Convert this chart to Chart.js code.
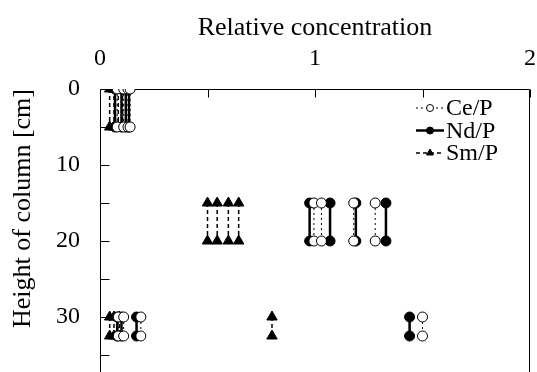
<!DOCTYPE html>
<html>
<head>
<meta charset="utf-8">
<script src="https://cdn.jsdelivr.net/npm/chart.js@4.4.0/dist/chart.umd.min.js"></script>
<style>
  html, body { margin: 0; padding: 0; background: #fff; overflow: hidden; }
  #wrap { width: 537px; height: 400px; }
</style>
</head>
<body>
<div id="wrap"><canvas id="chart"></canvas></div>
<script>
// sampling heights [cm], each pair is one measured interval
const depthTop = [0, 5];
const depthMid = [15, 20];
const depthLow = [30, 32.5];

// relative concentrations
const ceTop = [0.08, 0.11, 0.13, 0.14];
const ceMid = [0.995, 1.03, 1.18, 1.28];
const ceLow = [0.085, 0.11, 0.19, 1.50];

const ndTop = [0.07, 0.10, 0.12, 0.135];
const ndMid = [0.975, 1.07, 1.19, 1.33];
const ndLow = [0.08, 0.10, 0.17, 1.44];

const smTop = [0.045, 0.065, 0.085, 0.105];
const smMid = [0.50, 0.545, 0.597, 0.645];
const smLow = [0.045, 0.065, 0.09, 0.80];

const xLabels = [0, 1, 2];
const yLabels = [0, 10, 20, 30];

const FONT = 'Liberation Serif';

function pairs(groups) {
    const out = [];
    groups.forEach(([values, depth]) => {
        values.forEach(v => {
            out.push({x: v, y: depth[0]}, {x: v, y: depth[1]}, {x: v, y: null});
        });
    });
    return out;
}

const series = [
    {
        label: 'Ce/P',
        data: pairs([[ceTop, depthTop], [ceMid, depthMid], [ceLow, depthLow]]),
        borderWidth: 1, borderDash: [2, 3],
        pointStyle: 'circle', pointRadius: 5, pointBackgroundColor: '#fff'
    },
    {
        label: 'Nd/P',
        data: pairs([[ndTop, depthTop], [ndMid, depthMid], [ndLow, depthLow]]),
        borderWidth: 2.5, borderDash: [],
        pointStyle: 'circle', pointRadius: 5, pointBackgroundColor: '#000'
    },
    {
        label: 'Sm/P',
        data: pairs([[smTop, depthTop], [smMid, depthMid], [smLow, depthLow]]),
        borderWidth: 1.5, borderDash: [4, 3],
        pointStyle: 'triangle', pointRadius: 6, pointBackgroundColor: '#000'
    }
];

// axis box with inward tick marks
const frame = {
    id: 'frame',
    beforeDatasetsDraw(chart) {
        const {ctx, chartArea: a, scales: {x, y}} = chart;
        ctx.save();
        ctx.strokeStyle = '#000';
        ctx.lineWidth = 1;
        ctx.beginPath();
        const l = Math.round(a.left) + 0.5, t = Math.round(a.top) + 0.5, r = Math.round(a.right) - 0.5;
        ctx.moveTo(l, a.bottom);
        ctx.lineTo(l, t);
        ctx.lineTo(r, t);
        ctx.lineTo(r, a.bottom);
        x.ticks.forEach(tk => {
            const px = Math.round(x.getPixelForValue(tk.value)) + 0.5;
            ctx.moveTo(px, t);
            ctx.lineTo(px, t + 8);
        });
        y.ticks.forEach(tk => {
            const py = Math.round(y.getPixelForValue(tk.value)) + 0.5;
            ctx.moveTo(l, py);
            ctx.lineTo(l + 9, py);
        });
        ctx.stroke();
        ctx.restore();
    }
};

// legend: line sample with the marker in the middle
const lineLegend = {
    id: 'lineLegend',
    afterDraw(chart) {
        const {ctx, chartArea: a} = chart;
        const x0 = a.right - 114;
        ctx.save();
        chart.data.datasets.forEach((ds, i) => {
            const cy = a.top + 19 + i * 22.5;
            ctx.strokeStyle = '#000';
            ctx.lineWidth = ds.borderWidth;
            ctx.setLineDash(ds.borderDash);
            ctx.beginPath();
            ctx.moveTo(x0, cy);
            ctx.lineTo(x0 + 28, cy);
            ctx.stroke();
            ctx.setLineDash([]);
            ctx.fillStyle = ds.pointBackgroundColor;
            ctx.lineWidth = 1;
            Chart.helpers.drawPoint(ctx, {
                pointStyle: ds.pointStyle,
                radius: ds.pointStyle === 'triangle' ? 4 : 3.5,
                rotation: 0,
                borderWidth: 1
            }, x0 + 14, cy);
            ctx.fillStyle = '#000';
            ctx.font = '24px "' + FONT + '"';
            ctx.textBaseline = 'middle';
            ctx.textAlign = 'left';
            ctx.fillText(ds.label, x0 + 30, cy + 1);
        });
        ctx.restore();
    }
};

new Chart(document.getElementById('chart'), {
    type: 'scatter',
    data: {
        datasets: series.map(s => ({
            label: s.label,
            data: s.data,
            showLine: true,
            spanGaps: false,
            borderColor: '#000',
            borderWidth: s.borderWidth,
            borderDash: s.borderDash,
            pointStyle: s.pointStyle,
            pointRadius: s.pointRadius,
            pointBackgroundColor: s.pointBackgroundColor,
            pointBorderColor: '#000',
            pointBorderWidth: 1
        }))
    },
    options: {
        responsive: true,
        maintainAspectRatio: false,
        animation: false,
        layout: {
            padding: {top: 13, left: 8, right: 0, bottom: 7}
        },
        plugins: {
            legend: {display: false},
            tooltip: {enabled: false}
        },
        scales: {
            x: {
                type: 'linear',
                position: 'top',
                min: 0,
                max: 2,
                grid: {display: false, drawTicks: false, tickLength: 0},
                border: {display: false},
                ticks: {
                    stepSize: 0.5,
                    autoSkip: false,
                    maxRotation: 0,
                    padding: 16,
                    color: '#000',
                    font: {family: FONT, size: 24},
                    callback: v => xLabels.includes(v) ? v : ''
                },
                title: {
                    display: true,
                    text: 'Relative concentration',
                    color: '#000',
                    font: {family: FONT, size: 26},
                    padding: {top: 0, bottom: 2}
                },
                afterFit: s => {
                    s.height = 76;
                    s.paddingLeft = 0;
                    s.paddingRight = 5;
                }
            },
            y: {
                type: 'linear',
                position: 'left',
                reverse: true,
                min: 0,
                max: 40,
                weight: 0,
                grid: {display: false, drawTicks: false, tickLength: 0},
                border: {display: false},
                ticks: {
                    stepSize: 5,
                    autoSkip: false,
                    padding: 20,
                    color: '#000',
                    font: {family: FONT, size: 24},
                    callback: v => yLabels.includes(v) ? v : ''
                },
                afterFit: s => {
                    s.width = 58;
                    s.paddingTop = 0;
                    s.paddingBottom = 0;
                }
            },
            yTitle: {
                type: 'linear',
                position: 'left',
                min: 0,
                max: 1,
                weight: 1,
                grid: {display: false, drawTicks: false},
                border: {display: false},
                ticks: {display: false},
                title: {
                    display: true,
                    align: 'end',
                    text: 'Height of column [cm]',
                    color: '#000',
                    font: {family: FONT, size: 26},
                    padding: {top: 0, bottom: 4}
                },
                afterFit: s => {
                    s.width = 34;
                    s.paddingTop = 0;
                    s.paddingBottom = 0;
                }
            }
        }
    },
    plugins: [frame, lineLegend]
});
</script>
</body>
</html>
